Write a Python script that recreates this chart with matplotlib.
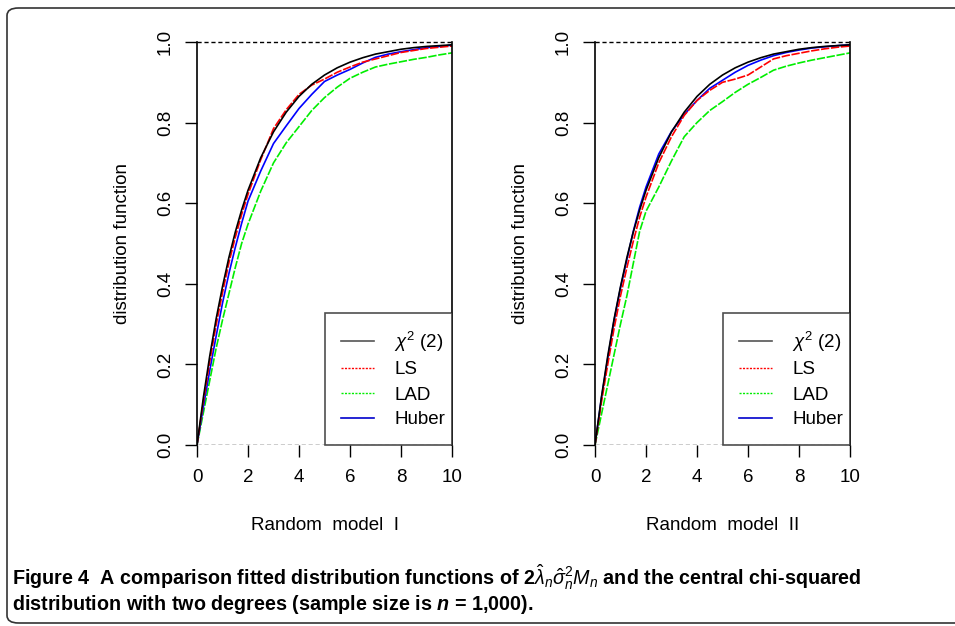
import matplotlib
matplotlib.use('Agg')
import matplotlib.pyplot as plt
from matplotlib.lines import Line2D
from matplotlib.patches import FancyBboxPatch

plt.rcParams['font.family'] = ['Liberation Sans', 'DejaVu Sans']
plt.rcParams['mathtext.fontset'] = 'custom'
plt.rcParams['mathtext.rm'] = 'Liberation Sans'
plt.rcParams['mathtext.it'] = 'Liberation Sans:italic'
plt.rcParams['mathtext.bf'] = 'Liberation Sans:bold'
plt.rcParams['mathtext.bfit'] = 'Liberation Sans:bold:italic'

x = [0, 0.25, 0.5, 0.75, 1, 1.25, 1.5, 1.75, 2, 2.5, 3, 3.5, 4, 4.5,
     5, 5.5, 6, 6.5, 7, 7.5, 8, 8.5, 9, 9.5, 10]

# chi-squared(2) reference curve (same in both panels)
chi2 = [0, 0.118, 0.221, 0.313, 0.393, 0.465, 0.528, 0.583, 0.632, 0.713,
        0.777, 0.826, 0.865, 0.895, 0.918, 0.936, 0.950, 0.961, 0.970,
        0.976, 0.982, 0.986, 0.989, 0.991, 0.993]

# Random model I
ls_1 = [0, 0.108, 0.207, 0.298, 0.378, 0.452, 0.515, 0.572, 0.622, 0.708,
        0.785, 0.832, 0.870, 0.893, 0.908, 0.925, 0.938, 0.950, 0.958,
        0.966, 0.974, 0.979, 0.984, 0.987, 0.990]
lad_1 = [0, 0.080, 0.160, 0.240, 0.310, 0.375, 0.440, 0.500, 0.548, 0.630,
         0.700, 0.750, 0.790, 0.830, 0.862, 0.888, 0.910, 0.925, 0.938,
         0.945, 0.951, 0.957, 0.962, 0.968, 0.973]
huber_1 = [0, 0.095, 0.185, 0.270, 0.352, 0.425, 0.490, 0.550, 0.605, 0.680,
           0.748, 0.792, 0.835, 0.870, 0.902, 0.918, 0.932, 0.948, 0.962,
           0.970, 0.976, 0.981, 0.986, 0.989, 0.992]

# Random model II
ls_2 = [0, 0.105, 0.200, 0.290, 0.370, 0.440, 0.505, 0.565, 0.615, 0.700,
        0.765, 0.818, 0.855, 0.880, 0.900, 0.908, 0.918, 0.938, 0.958,
        0.966, 0.972, 0.978, 0.983, 0.987, 0.990]
lad_2 = [0, 0.075, 0.150, 0.225, 0.300, 0.370, 0.450, 0.530, 0.580, 0.640,
         0.705, 0.765, 0.800, 0.830, 0.852, 0.875, 0.895, 0.912, 0.930,
         0.940, 0.948, 0.955, 0.961, 0.967, 0.973]
huber_2 = [0, 0.115, 0.215, 0.310, 0.390, 0.460, 0.530, 0.590, 0.640, 0.722,
           0.778, 0.820, 0.855, 0.885, 0.905, 0.925, 0.942, 0.955, 0.966,
           0.974, 0.980, 0.985, 0.988, 0.991, 0.993]

panels = [('Random  model  I', ls_1, lad_1, huber_1),
          ('Random  model  II', ls_2, lad_2, huber_2)]

xticks = [0, 2, 4, 6, 8, 10]
yticks = [0.0, 0.2, 0.4, 0.6, 0.8, 1.0]
legend_labels = [r'$\chi^2$ (2)', 'LS', 'LAD', 'Huber']

W, H = 955, 626
fig = plt.figure(figsize=(W / 100, H / 100), dpi=100)

# rounded frame round the whole figure
frame = FancyBboxPatch((7 / W, 3 / H), 1.2, 1 - 11 / H,
                       boxstyle='round,pad=0,rounding_size=0.012',
                       transform=fig.transFigure, fill=False,
                       edgecolor='#333333', linewidth=1.2, clip_on=False)
fig.patches.append(frame)

lefts = [197, 595]
for left, (xlabel, ls, lad, huber) in zip(lefts, panels):
    ax = fig.add_axes([left / W, 1 - 445 / H, 255 / W, 403 / H])
    ax.set_xlim(0, 10)
    ax.set_ylim(0, 1)

    ax.axhline(0, color='black', linestyle=(0, (3, 2)), lw=1)
    ax.axhline(1, color='black', linestyle=(0, (3, 2)), lw=1, clip_on=False)

    ax.plot(x, lad, color='#00ee00', lw=1.2, linestyle=(0, (5, 1)))
    ax.plot(x, huber, color='#0000ff', lw=1.2)
    ax.plot(x, ls, color='#ff0000', lw=1.2, linestyle=(0, (5, 1)))
    ax.plot(x, chi2, color='black', lw=1.2)

    for s in ['top', 'bottom']:
        ax.spines[s].set_visible(False)
    for s in ['left', 'right']:
        ax.spines[s].set_linewidth(1.2)

    ax.set_xticks(xticks)
    ax.set_xticklabels([str(t) for t in xticks])
    ax.set_yticks(yticks)
    ax.set_yticklabels(['%.1f' % t for t in yticks], rotation=90, va='center')
    ax.tick_params(axis='both', direction='out', length=8.5, width=1,
                   labelsize=13.5, pad=8)
    ax.tick_params(axis='x', pad=9)
    ax.tick_params(axis='y', right=False)

    ax.set_xlabel(xlabel, fontsize=13.5, labelpad=22)
    ax.set_ylabel('distribution function', fontsize=13.5, labelpad=19)

    handles = [Line2D([], [], color='#555555', lw=1.2),
               Line2D([], [], color='#ff0000', lw=1, linestyle=(0, (1.5, 1))),
               Line2D([], [], color='#00ee00', lw=1, linestyle=(0, (1.5, 1))),
               Line2D([], [], color='#0000cc', lw=1.2)]
    leg = ax.legend(handles, legend_labels, loc='lower left',
                    bbox_to_anchor=(0.5, 0, 0.5, 0.33), mode='expand',
                    borderaxespad=0, fancybox=False, frameon=True,
                    fontsize=13.5, handlelength=1.75, handletextpad=1.1,
                    labelspacing=0.42, borderpad=0.88)
    leg.get_frame().set_edgecolor('#222222')
    leg.get_frame().set_linewidth(1.2)

cap_font = ['Liberation Sans Narrow', 'Liberation Sans', 'DejaVu Sans']
fig.text(12 / W, 1 - 577 / H,
         r'Figure 4  A comparison fitted distribution functions of '
         r'$\boldsymbol{2\hat{\lambda}_n\hat{\sigma}_n^2M_n}$ and the central chi-squared',
         fontsize=14.2, fontweight='bold', family=cap_font, va='center')
fig.text(12 / W, 1 - 605 / H,
         r'distribution with two degrees (sample size is $\boldsymbol{n}$ = 1,000).',
         fontsize=14.2, fontweight='bold', family=cap_font, va='center')

fig.savefig('out.png', dpi=100)
